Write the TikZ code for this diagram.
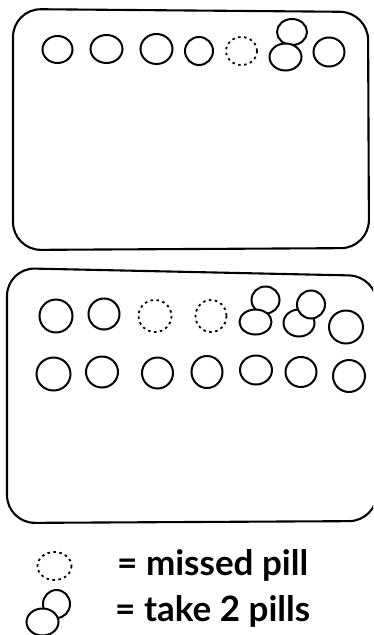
\documentclass[tikz,border=0pt]{standalone}
\usepackage{fontspec}
\setmainfont{Lato}
\begin{document}
\begin{tikzpicture}[x=1pt,y=-1pt,
  card/.style={draw=black,line width=2.1pt,rounded corners=28pt},
  pill/.style={draw=black,line width=2pt},
  missed/.style={draw=black,line width=1.8pt,dash pattern=on 2.5pt off 3.5pt},
  legend/.style={anchor=base west,inner sep=0pt,font=\fontsize{35}{35}\selectfont\bfseries}]
\useasboundingbox (0,0) rectangle (373,635);
\begin{scope}
\clip (0,0) rectangle (373,635);
% cards
\draw[card] (13,9) -- (368,12) -- (369,248) -- (13,250) -- cycle;
\draw[card] (7,268) -- (377,276) -- (377,521) -- (7,523) -- cycle;
\end{scope}
% top card pills
\draw[pill] (57.5,49.5) ellipse [x radius=15,y radius=13.5];
\draw[pill] (106.5,49) ellipse [x radius=16,y radius=14];
\draw[pill] (156.5,49) ellipse [x radius=16,y radius=15];
\draw[pill] (199,51) ellipse [x radius=14,y radius=14];
\draw[missed] (241.5,51) ellipse [x radius=15.5,y radius=14];
\draw[pill] (292,32) ellipse [x radius=15,y radius=13];
\draw[pill,fill=white] (285.5,57) ellipse [x radius=16,y radius=13.5];
\draw[pill] (329,52) ellipse [x radius=15.5,y radius=14.5];
% bottom card row 1
\draw[pill] (56,316) ellipse [x radius=16.5,y radius=16.5];
\draw[pill] (104,314) ellipse [x radius=15.5,y radius=15.5];
\draw[missed] (155,316) ellipse [x radius=16.5,y radius=16];
\draw[missed] (211,316) ellipse [x radius=15.5,y radius=16];
\draw[pill] (265.5,300) ellipse [x radius=14,y radius=13.5];
\draw[pill,fill=white] (255.5,322) ellipse [x radius=16,y radius=12.5];
\draw[pill] (299,323) ellipse [x radius=15.5,y radius=13.5];
\draw[pill,fill=white] (311,304.5) ellipse [x radius=14,y radius=14];
\draw[pill] (346,327) ellipse [x radius=17,y radius=16.5];
% bottom card row 2
\draw[pill] (53.5,374) ellipse [x radius=17,y radius=16.5];
\draw[pill] (102,372) ellipse [x radius=16,y radius=15.5];
\draw[pill] (157.5,373) ellipse [x radius=15.5,y radius=15.5];
\draw[pill] (207,372) ellipse [x radius=15.5,y radius=16];
\draw[pill] (256,370) ellipse [x radius=16,y radius=14.5];
\draw[pill] (301,372) ellipse [x radius=15.5,y radius=15];
\draw[pill] (349,376) ellipse [x radius=16,y radius=16];
% legend
\draw[missed] (54.5,566) ellipse [x radius=17,y radius=14];
\draw[pill] (56.5,604) ellipse [x radius=13.5,y radius=14];
\draw[pill,fill=white] (42.5,622) ellipse [x radius=16,y radius=13.5];
\node[legend] (l1) at (117,575) {= missed pill};
\node[legend] (l2) at (115,621) {= take 2 pills};
\end{tikzpicture}
\end{document}
